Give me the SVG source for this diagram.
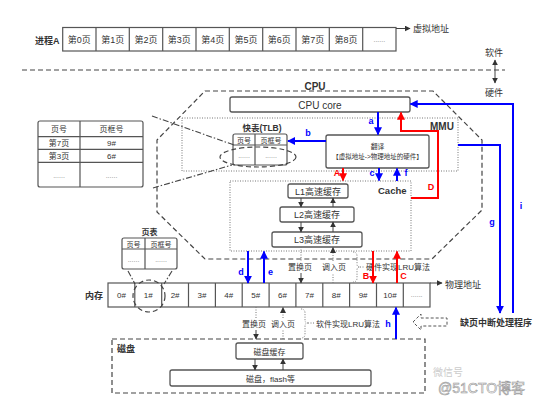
<svg xmlns="http://www.w3.org/2000/svg" width="553" height="408" viewBox="0 0 553 408">
<style>
text{font-family:"Liberation Sans","Noto Sans CJK SC",sans-serif;fill:#333}
.box{fill:#fff;stroke:#555;stroke-width:1.2}
.rb{fill:#fff;stroke:#555;stroke-width:1.3}
.ln{stroke:#555;stroke-width:1.2;fill:none}
.dash{stroke:#444;stroke-width:1.2;fill:none;stroke-dasharray:5,3}
.dot{stroke:#777;stroke-width:1;fill:none;stroke-dasharray:1,1.5}
.dd{stroke:#444;stroke-width:1.1;fill:none;stroke-dasharray:6,2,1.5,2}
.g{stroke:#444;stroke-width:1;fill:none}
.blue{stroke:#0000ff;stroke-width:2;fill:none}
.red{stroke:#ff0000;stroke-width:2;fill:none}
.c{text-anchor:middle}
.s9{font-size:9px}
.s8{font-size:8px}
.s7{font-size:7px}
.b{font-weight:bold}
.lb{font-size:9px;font-weight:bold;fill:#0000ff}
.lr{font-size:9px;font-weight:bold;fill:#ff0000}
.dots{font-size:7px;fill:#888}
</style>
<defs>
<marker id="ab" viewBox="0 0 10 10" refX="9" refY="5" markerWidth="8" markerHeight="8" markerUnits="userSpaceOnUse" orient="auto"><path d="M0,0L10,5L0,10Z" fill="#0000ff"/></marker>
<marker id="ar" viewBox="0 0 10 10" refX="9" refY="5" markerWidth="8" markerHeight="8" markerUnits="userSpaceOnUse" orient="auto"><path d="M0,0L10,5L0,10Z" fill="#ff0000"/></marker>
<marker id="ag" viewBox="0 0 10 10" refX="9" refY="5" markerWidth="6" markerHeight="6" markerUnits="userSpaceOnUse" orient="auto"><path d="M0,0L10,5L0,10Z" fill="#333"/></marker>
<marker id="ags" viewBox="0 0 10 10" refX="1" refY="5" markerWidth="6" markerHeight="6" markerUnits="userSpaceOnUse" orient="auto"><path d="M10,0L0,5L10,10Z" fill="#333"/></marker>
</defs>

<g id="process-a">
<text x="35" y="43.5" class="s9 b" font-size="10">进程A</text>
<rect x="62.7" y="27.5" width="333.3" height="23.5" class="box"/>
<g class="ln">
<path d="M96,27.5V51M129.3,27.5V51M162.7,27.5V51M196,27.5V51M229.3,27.5V51M262.7,27.5V51M296,27.5V51M329.3,27.5V51M362.7,27.5V51"/>
</g>
<g class="s9 c">
<text x="79.3" y="43">第0页</text><text x="112.7" y="43">第1页</text><text x="146" y="43">第2页</text><text x="179.3" y="43">第3页</text><text x="212.7" y="43">第4页</text><text x="246" y="43">第5页</text><text x="279.3" y="43">第6页</text><text x="312.7" y="43">第7页</text><text x="346" y="43">第8页</text>
</g>
<text x="379.3" y="42" class="c dots">......</text>
<line x1="396" y1="28.5" x2="410" y2="28.5" class="g" marker-end="url(#ag)"/>
<text x="413" y="32" class="s9">虚拟地址</text>
</g>

<g id="sw-hw">
<line x1="22" y1="70" x2="505" y2="70" class="dash"/>
<text x="494" y="56" class="s9 c">软件</text>
<line x1="495" y1="60" x2="495" y2="83" class="g" marker-start="url(#ags)" marker-end="url(#ag)"/>
<text x="494" y="96" class="s9 c">硬件</text>
</g>

<g id="cpu">
<path d="M205,91L433,91L482,140L482,210L432,259L205,259L157,212L157,140Z" class="dash"/>
<text x="315" y="90" class="c b" font-size="10">CPU</text>
</g>

<g id="cpu-core">
<rect x="230" y="97" width="180" height="15" rx="2" class="rb"/>
<text x="320" y="108.5" class="c" font-size="10">CPU core</text>
</g>

<g id="mmu">
<rect x="182" y="118" width="276" height="53" class="dot"/>
<text x="430" y="130" class="b" font-size="10">MMU</text>
</g>

<g id="tlb">
<text x="262" y="131" class="c b" font-size="8.5">快表(TLB)</text>
<rect x="233" y="134" width="54" height="31" rx="2" class="box"/>
<path d="M233,145H287M255,134V165" class="ln"/>
<text x="244" y="143" class="c s7">页号</text>
<text x="271" y="143" class="c s7">页框号</text>
<text x="244" y="158" class="c dots">......</text>
<text x="271" y="158" class="c dots">......</text>
<ellipse cx="258" cy="157" rx="38" ry="10" class="dash" stroke-width="1"/>
</g>

<g id="translate">
<rect x="326" y="135" width="103" height="33" rx="2" class="rb"/>
<text x="377.5" y="149" class="c" font-size="6.8">翻译</text>
<text x="377.5" y="159" class="c" font-size="6.5">【虚拟地址-&gt;物理地址的硬件】</text>
</g>

<g id="tlb-detail">
<rect x="38" y="121" width="105" height="66" rx="2" class="box"/>
<path d="M38,136.7H143M38,149.3H143M38,162.3H143M80,121V187" class="ln"/>
<text x="59" y="132" class="c s8">页号</text>
<text x="111.5" y="132" class="c s8">页框号</text>
<text x="59" y="146" class="c s8">第7页</text>
<text x="111.5" y="146" class="c s8">9#</text>
<text x="59" y="159" class="c s8">第3页</text>
<text x="111.5" y="159" class="c s8">6#</text>
<text x="59" y="178" class="c dots">......</text>
<text x="111.5" y="178" class="c dots">......</text>
</g>

<g id="cache">
<rect x="230" y="181" width="181" height="70" class="dot"/>
<text x="378" y="194" class="b" font-size="9.5">Cache</text>
</g>
<g id="l1"><rect x="288" y="184" width="60" height="14" rx="2" class="rb"/><text x="318" y="194.5" class="c s9">L1高速缓存</text></g>
<g id="l2"><rect x="280" y="207" width="74" height="15" rx="2" class="rb"/><text x="317" y="218" class="c s9">L2高速缓存</text></g>
<g id="l3"><rect x="272" y="232" width="90" height="15" rx="2" class="rb"/><text x="317" y="243" class="c s9">L3高速缓存</text></g>

<g id="page-table">
<text x="149.5" y="235" class="c b s8">页表</text>
<rect x="122" y="238" width="55" height="31" rx="2" class="box"/>
<path d="M122,249H177M145,238V269" class="ln"/>
<text x="133.5" y="246.5" class="c s7">页号</text>
<text x="161" y="246.5" class="c s7">页框号</text>
<text x="133.5" y="262" class="c dots">......</text>
<text x="161" y="262" class="c dots">......</text>
</g>

<g id="memory">
<text x="85" y="298.5" class="b" font-size="9">内存</text>
<rect x="108" y="283" width="322" height="24" class="box"/>
<path d="M134.8,283V307M161.7,283V307M188.5,283V307M215.4,283V307M242.2,283V307M269.1,283V307M295.9,283V307M322.8,283V307M349.6,283V307M376.5,283V307M403.3,283V307" class="ln"/>
<g class="c s8">
<text x="121.4" y="298">0#</text><text x="148.3" y="298">1#</text><text x="175.1" y="298">2#</text><text x="202" y="298">3#</text><text x="228.8" y="298">4#</text><text x="255.7" y="298">5#</text><text x="282.5" y="298">6#</text><text x="309.4" y="298">7#</text><text x="336.2" y="298">8#</text><text x="363.1" y="298">9#</text><text x="390" y="298">10#</text>
</g>
<text x="416.7" y="297" class="c dots">......</text>
<circle cx="149" cy="296" r="16" class="dash" stroke-width="1"/>
<line x1="430" y1="283" x2="442" y2="283" class="g" marker-end="url(#ag)"/>
<text x="445" y="288" class="s9">物理地址</text>
</g>

<g id="disk">
<rect x="112" y="339" width="313" height="54" class="dash"/>
<text x="117" y="352" class="b" font-size="9">磁盘</text>
</g>
<g id="disk-cache"><rect x="236" y="343" width="67" height="16" rx="2" class="rb"/><text x="269.5" y="354.5" class="c s8">磁盘缓存</text></g>
<g id="disk-flash"><rect x="170" y="370" width="201" height="16" rx="2" class="rb"/><text x="270.5" y="381.5" class="c s8">磁盘，flash等</text></g>

<g id="page-fault-handler">
<polygon points="413,322 421,314 421,318 447,318 447,326 421,326 421,330" fill="none" stroke="#555" stroke-width="1" stroke-dasharray="3,2"/>
<text x="460" y="326" class="b" font-size="9">缺页中断处理程序</text>
</g>

<g id="connectors">
<line x1="152" y1="116" x2="234" y2="145" class="dd"/>
<line x1="153" y1="188" x2="232" y2="165" class="dd"/>
<line x1="128" y1="271" x2="135" y2="284" class="dd"/>
<line x1="172" y1="271" x2="164" y2="284" class="dd"/>

<line x1="301" y1="198" x2="301" y2="207" class="g" marker-end="url(#ag)"/>
<line x1="333" y1="207" x2="333" y2="198" class="g" marker-end="url(#ag)"/>
<line x1="301" y1="222" x2="301" y2="232" class="g" marker-end="url(#ag)"/>
<line x1="333" y1="232" x2="333" y2="222" class="g" marker-end="url(#ag)"/>

<line x1="301" y1="247" x2="301" y2="261" class="dot"/>
<text x="300" y="270" class="c s8">置换页</text>
<line x1="301" y1="273" x2="301" y2="283" class="g" marker-end="url(#ag)"/>
<line x1="333" y1="283" x2="333" y2="273" class="dot"/>
<text x="334" y="270" class="c s8">调入页</text>
<line x1="333" y1="261" x2="333" y2="247.5" class="dot" marker-end="url(#ag)"/>
<path d="M353,252Q357,252 357,256V264Q357,267 360,267Q357,267 357,270V278Q357,282 353,282M360,267H365" class="dot"/>
<text x="366" y="270" class="s8">硬件实现LRU算法</text>

<line x1="256" y1="307" x2="256" y2="318" class="dot"/>
<text x="254" y="327" class="c s8">置换页</text>
<line x1="256" y1="330" x2="256" y2="339" class="g" marker-end="url(#ag)"/>
<line x1="283" y1="339" x2="283" y2="330" class="dot"/>
<text x="283" y="327" class="c s8">调入页</text>
<line x1="283" y1="318" x2="283" y2="307.5" class="dot" marker-end="url(#ag)"/>
<path d="M301,309Q305,309 305,313V320Q305,323 308,323Q305,323 305,326V334Q305,338 301,338M308,323H315" class="dot"/>
<text x="316" y="327" class="s8">软件实现LRU算法</text>

<line x1="255" y1="359" x2="255" y2="370" class="g" marker-end="url(#ag)"/>
<line x1="283" y1="370" x2="283" y2="359" class="g" marker-end="url(#ag)"/>

<line x1="378" y1="112" x2="378" y2="134.5" class="blue" marker-end="url(#ab)"/>
<text x="371" y="124" class="lb c">a</text>
<line x1="326" y1="141" x2="288" y2="141" class="blue" marker-end="url(#ab)"/>
<text x="308" y="136" class="lb c">b</text>
<line x1="343" y1="168" x2="343" y2="180.5" class="red" marker-end="url(#ar)"/>
<text x="337" y="176" class="lr c">A</text>
<line x1="379" y1="168" x2="379" y2="180.5" class="blue" marker-end="url(#ab)"/>
<text x="372" y="176" class="lb c">c</text>
<line x1="397" y1="181" x2="397" y2="168.5" class="blue" marker-end="url(#ab)"/>
<text x="406" y="176" class="lb c">f</text>
<polyline points="411,198 438,198 438,131 401,131 401,112.5" class="red" marker-end="url(#ar)"/>
<text x="431" y="190" class="lr c">D</text>
<line x1="248" y1="251" x2="248" y2="283" class="blue" marker-end="url(#ab)"/>
<text x="241" y="275" class="lb c">d</text>
<line x1="264" y1="283" x2="264" y2="251.5" class="blue" marker-end="url(#ab)"/>
<text x="270.5" y="275" class="lb c">e</text>
<line x1="373" y1="251" x2="373" y2="283" class="red" marker-end="url(#ar)"/>
<text x="366" y="279" class="lr c">B</text>
<line x1="397" y1="283" x2="397" y2="251.5" class="red" marker-end="url(#ar)"/>
<text x="403.5" y="279" class="lr c">C</text>
<polyline points="458,145 500,145 500,313" class="blue" marker-end="url(#ab)"/>
<text x="492" y="225" class="lb c">g</text>
<polyline points="513,313 513,104 410.5,104" class="blue" marker-end="url(#ab)"/>
<text x="521" y="209" class="lb c">i</text>
<line x1="396" y1="339" x2="396" y2="307.5" class="blue" marker-end="url(#ab)"/>
<text x="388" y="327" class="lb c">h</text>
</g>

<g id="watermark">
<text x="433" y="376" font-size="10" style="fill:#ccc">微信号</text>
<text x="438" y="393" font-size="14" style="fill:#fff;stroke:#999;stroke-width:0.6">@51CTO博客</text>
</g>
</svg>
